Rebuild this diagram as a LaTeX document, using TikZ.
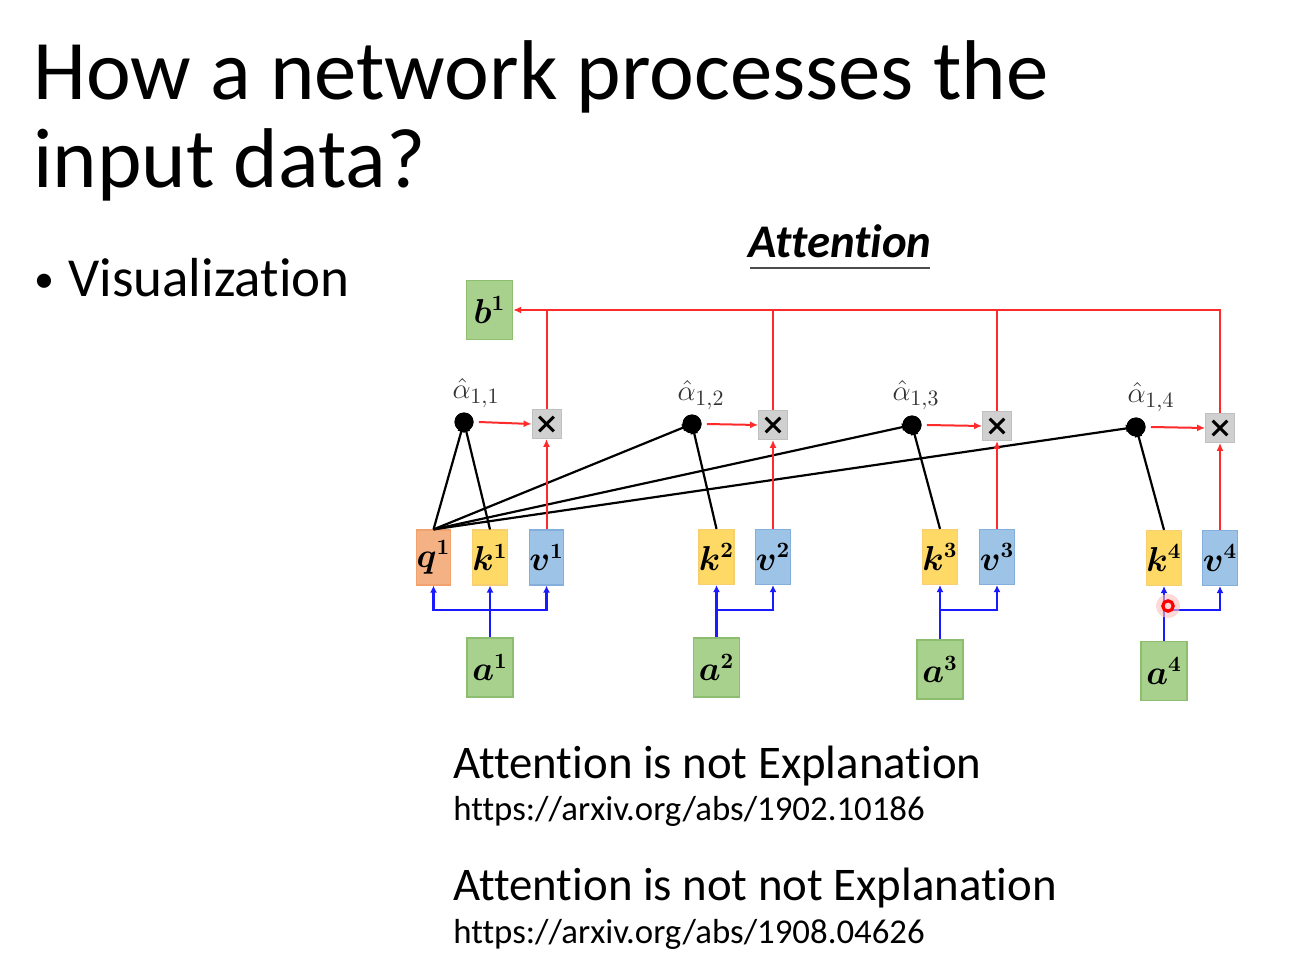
\documentclass[tikz,border=0pt]{standalone}
\usepackage{fontspec}
\setmainfont{Carlito}[Ligatures={NoCommon}]
\usepackage{amsmath}
\usetikzlibrary{arrows.meta}
\definecolor{qfill}{HTML}{F4B183}
\definecolor{qdraw}{HTML}{F2A26E}
\definecolor{kfill}{HTML}{FFD966}
\definecolor{kdraw}{HTML}{F6CF70}
\definecolor{vfill}{HTML}{9DC3E6}
\definecolor{vdraw}{HTML}{84AEDB}
\definecolor{gfill}{HTML}{A9D18E}
\definecolor{gdraw}{HTML}{8DBE70}
\definecolor{mfill}{HTML}{D0D0D0}
\definecolor{redline}{HTML}{FF2A2A}
\definecolor{blueline}{HTML}{1A1AFF}
\begin{document}
\begin{tikzpicture}[x=0.5pt,y=-0.5pt,
  vec/.style={draw, line width=0.6pt, minimum width=15pt, minimum height=27.5pt, inner sep=0pt, font=\fontsize{16}{16}\selectfont},
  qbox/.style={vec, fill=qfill, draw=qdraw},
  kbox/.style={vec, fill=kfill, draw=kdraw},
  vbox/.style={vec, fill=vfill, draw=vdraw},
  gbox/.style={draw=gdraw, fill=gfill, line width=0.6pt, minimum width=23pt, minimum height=29.5pt, inner sep=0pt, font=\fontsize{16}{16}\selectfont},
  mult/.style={draw=mfill!80!gray, fill=mfill, minimum size=14.5pt, inner sep=0pt,
    path picture={\draw[black, line width=1.5pt] ([shift={(3.6pt,-3.6pt)}]path picture bounding box.north west) -- ([shift={(-3.6pt,3.6pt)}]path picture bounding box.south east);
                  \draw[black, line width=1.5pt] ([shift={(-3.6pt,-3.6pt)}]path picture bounding box.north east) -- ([shift={(3.6pt,3.6pt)}]path picture bounding box.south west);}},
  dot/.style={circle, fill=black, minimum size=9.5pt, inner sep=0pt},
  alab/.style={font=\fontsize{15}{15}\selectfont, text=black!80},
  redarr/.style={redline, line width=1pt, -{Latex[length=4pt,width=3.5pt]}},
  redln/.style={redline, line width=1pt},
  bluearr/.style={blueline, line width=1.4pt, -{Latex[length=3.5pt,width=3.5pt]}},
  bluln/.style={blueline, line width=1.4pt},
  blkarr/.style={black, line width=1.1pt, -{Latex[length=5pt,width=4pt]}},
  txt/.style={anchor=base west, inner sep=0pt}
]
\useasboundingbox (0,0) rectangle (1289,978);
\fill[white] (0,0) rectangle (1289,978);

% Title and text
\node[txt, font=\fontsize{42.4}{42.4}\selectfont] (t1) at (33,100) {How a network processes the};
\node[txt, font=\fontsize{42.4}{42.4}\selectfont] (t2) at (33,188) {input data?};
\node[txt, font=\fontsize{20}{20}\selectfont] (bul) at (34,293) {\textbullet};
\node[txt, font=\fontsize{27.5}{27.5}\selectfont] (vis) at (68,297) {Visualization};
\node[txt, font=\fontsize{23.4}{23.4}\selectfont\bfseries\itshape, anchor=base] (att) at (840,258) {Attention};
\draw[black!70, line width=0.7pt] (750,268) -- (930,268);

% bottom refs
\node[txt, font=\fontsize{23.4}{23.4}\selectfont] (r1) at (453,778) {Attention is not Explanation};
\node[txt, font=\fontsize{17.4}{17.4}\selectfont] (u1) at (453,820) {https://arxiv.org/abs/1902.10186};
\node[txt, font=\fontsize{23.4}{23.4}\selectfont] (r2) at (453,900) {Attention is not not Explanation};
\node[txt, font=\fontsize{17.4}{17.4}\selectfont] (u2) at (453,943) {https://arxiv.org/abs/1908.04626};

% vectors
\node[qbox] (q1) at (433.5,557.5) {$\boldsymbol{q^1}$};
\node[kbox] (k1) at (490,557.5) {$\boldsymbol{k^1}$};
\node[vbox] (v1) at (546.5,557.5) {$\boldsymbol{v^1}$};
\node[kbox] (k2) at (716.5,557) {$\boldsymbol{k^2}$};
\node[vbox] (v2) at (773,557) {$\boldsymbol{v^2}$};
\node[kbox] (k3) at (940,557) {$\boldsymbol{k^3}$};
\node[vbox] (v3) at (997,557) {$\boldsymbol{v^3}$};
\node[kbox] (k4) at (1164,558) {$\boldsymbol{k^4}$};
\node[vbox] (v4) at (1220,558) {$\boldsymbol{v^4}$};

% inputs
\node[gbox] (a1) at (490,667.5) {$\boldsymbol{a^1}$};
\node[gbox] (a2) at (716.5,667.5) {$\boldsymbol{a^2}$};
\node[gbox] (a3) at (940,669.5) {$\boldsymbol{a^3}$};
\node[gbox] (a4) at (1164,671) {$\boldsymbol{a^4}$};
\node[gbox] (b1) at (489.5,310) {$\boldsymbol{b^1}$};

% dots and multipliers
\node[dot] (d1) at (464,422) {};
\node[dot] (d2) at (692,424) {};
\node[dot] (d3) at (912,425) {};
\node[dot] (d4) at (1136,427) {};
\node[alab] (l1) at (476,393) {$\hat\alpha_{1,1}$};
\node[alab] (l2) at (701,395) {$\hat\alpha_{1,2}$};
\node[alab] (l3) at (916,395) {$\hat\alpha_{1,3}$};
\node[alab] (l4) at (1151,397) {$\hat\alpha_{1,4}$};
\node[mult] (m1) at (546.5,424) {};
\node[mult] (m2) at (773,425) {};
\node[mult] (m3) at (997,426) {};
\node[mult] (m4) at (1220,428) {};

% blue input lines
\coordinate (j1) at (490,610);
\draw[bluln] (a1.north) -- (j1);
\draw[bluearr] (j1) -| (q1.south);
\draw[bluearr] (j1) -- (k1.south);
\draw[bluearr] (j1) -| (v1.south);
\draw[bluearr] (a2.north) -- (k2.south);
\draw[bluearr] (k2.south |- j1) -| (v2.south);
\draw[bluearr] (a3.north) -- (k3.south);
\draw[bluearr] (k3.south |- j1) -| (v3.south);
\draw[bluearr] (a4.north) -- (k4.south);
\draw[bluearr] (k4.south |- j1) -| (v4.south);

% black attention lines
\draw[blkarr] (q1.north) -- (d1.center);
\draw[blkarr] (k1.north) -- (d1.center);
\draw[blkarr] (q1.north) -- (d2.center);
\draw[blkarr] (k2.north) -- (d2.center);
\draw[blkarr] (q1.north) -- (d3.center);
\draw[blkarr] (k3.north) -- (d3.center);
\draw[blkarr] (q1.north) -- (d4.center);
\draw[blkarr] (k4.north) -- (d4.center);
\node[dot] at (d1) {};
\node[dot] at (d2) {};
\node[dot] at (d3) {};
\node[dot] at (d4) {};

% red value lines
\draw[redarr] (v1.north) -- (m1.south);
\draw[redarr] (v2.north) -- (m2.south);
\draw[redarr] (v3.north) -- (m3.south);
\draw[redarr] (v4.north) -- (m4.south);
\draw[redarr] (d1.east) ++(5,0) -- (m1.west);
\draw[redarr] (d2.east) ++(5,0) -- (m2.west);
\draw[redarr] (d3.east) ++(5,0) -- (m3.west);
\draw[redarr] (d4.east) ++(5,0) -- (m4.west);
\draw[redarr] (m4.north) |- (b1.east);
\draw[redln] (m1.north) -- (m1.north |- b1.east);
\draw[redln] (m2.north) -- (m2.north |- b1.east);
\draw[redln] (m3.north) -- (m3.north |- b1.east);

% cursor mark
\fill[red!25, opacity=0.6] (1168,606) circle (6pt);
\draw[red, line width=1.6pt] (1168,606) circle (2.6pt);
\end{tikzpicture}
\end{document}
